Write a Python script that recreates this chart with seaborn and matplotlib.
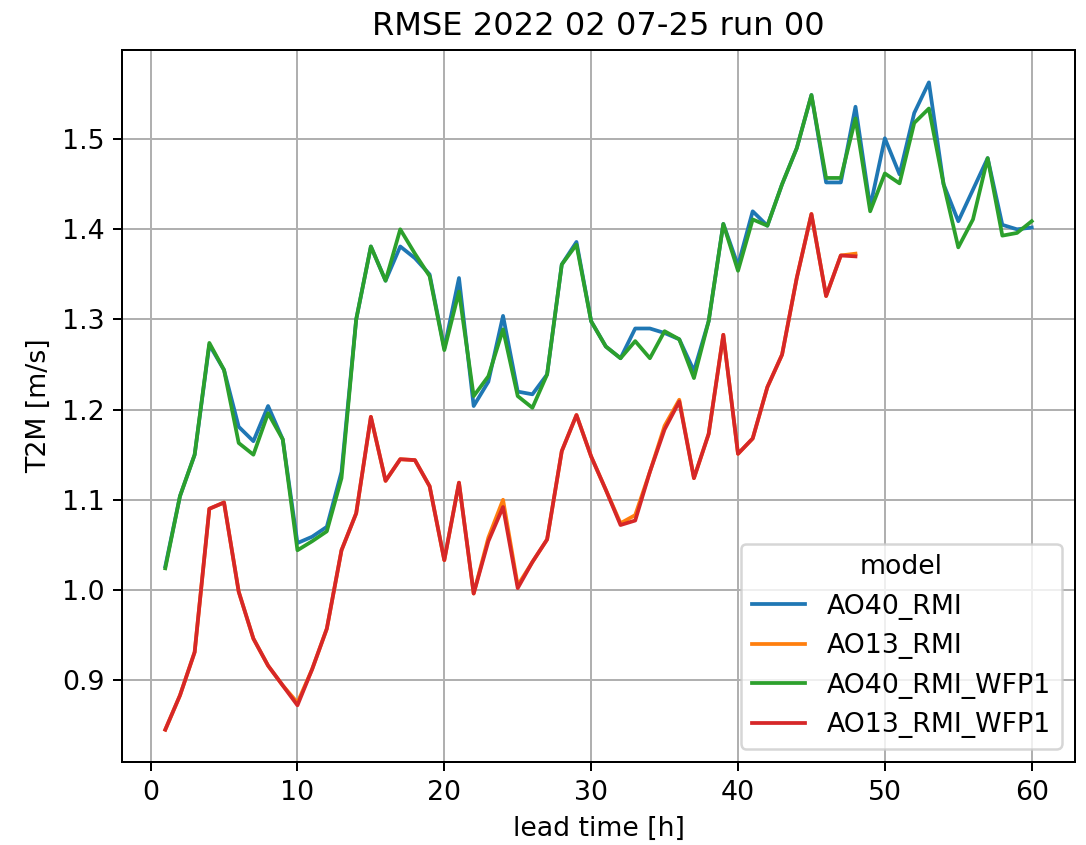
import numpy as np
import pandas as pd
import seaborn as sns
import matplotlib.pyplot as plt

lead_long = list(range(1, 61))
lead_short = list(range(1, 49))

ao40_rmi = [
    1.026, 1.104, 1.150, 1.272, 1.244, 1.181, 1.165, 1.204, 1.167, 1.052,
    1.059, 1.070, 1.131, 1.300, 1.381, 1.343, 1.381, 1.368, 1.350, 1.268,
    1.346, 1.204, 1.231, 1.304, 1.220, 1.217, 1.239, 1.361, 1.386, 1.298,
    1.270, 1.257, 1.290, 1.290, 1.285, 1.278, 1.243, 1.298, 1.406, 1.360,
    1.420, 1.404, 1.450, 1.490, 1.549, 1.452, 1.452, 1.536, 1.425, 1.501,
    1.461, 1.529, 1.563, 1.450, 1.409, 1.444, 1.479, 1.405, 1.400, 1.402,
]
ao40_rmi_wfp1 = [
    1.024, 1.104, 1.150, 1.274, 1.244, 1.163, 1.150, 1.196, 1.167, 1.044,
    1.054, 1.065, 1.124, 1.300, 1.381, 1.343, 1.400, 1.373, 1.348, 1.266,
    1.331, 1.215, 1.237, 1.289, 1.215, 1.202, 1.239, 1.361, 1.383, 1.298,
    1.270, 1.257, 1.276, 1.257, 1.287, 1.278, 1.235, 1.298, 1.406, 1.354,
    1.411, 1.404, 1.450, 1.490, 1.549, 1.457, 1.457, 1.523, 1.420, 1.462,
    1.451, 1.518, 1.534, 1.450, 1.380, 1.411, 1.479, 1.393, 1.396, 1.409,
]
ao13_rmi = [
    0.845, 0.883, 0.931, 1.090, 1.097, 0.998, 0.946, 0.916, 0.894, 0.875,
    0.912, 0.957, 1.044, 1.085, 1.192, 1.121, 1.145, 1.144, 1.115, 1.033,
    1.119, 0.996, 1.058, 1.100, 1.005, 1.031, 1.056, 1.154, 1.194, 1.148,
    1.111, 1.074, 1.083, 1.131, 1.182, 1.211, 1.124, 1.173, 1.283, 1.151,
    1.168, 1.225, 1.261, 1.346, 1.417, 1.326, 1.371, 1.373,
]
ao13_rmi_wfp1 = [
    0.845, 0.883, 0.931, 1.090, 1.097, 0.998, 0.946, 0.916, 0.894, 0.872,
    0.912, 0.957, 1.044, 1.085, 1.192, 1.121, 1.145, 1.144, 1.115, 1.033,
    1.119, 0.996, 1.054, 1.092, 1.002, 1.031, 1.056, 1.154, 1.194, 1.148,
    1.111, 1.072, 1.077, 1.131, 1.178, 1.209, 1.124, 1.173, 1.283, 1.151,
    1.168, 1.225, 1.261, 1.346, 1.417, 1.326, 1.371, 1.370,
]

series = [
    ("AO40_RMI", lead_long, ao40_rmi),
    ("AO13_RMI", lead_short, ao13_rmi),
    ("AO40_RMI_WFP1", lead_long, ao40_rmi_wfp1),
    ("AO13_RMI_WFP1", lead_short, ao13_rmi_wfp1),
]
df = pd.concat(
    [pd.DataFrame({"lead": x, "rmse": y, "model": name}) for name, x, y in series],
    ignore_index=True,
)

plt.rcParams["font.size"] = 10.7

fig = plt.figure(figsize=(1086 / 180, 845 / 180), dpi=180)
ax = fig.add_subplot(111)
fig.subplots_adjust(left=0.1123, right=0.9899, bottom=0.0982, top=0.9408)

sns.lineplot(data=df, x="lead", y="rmse", hue="model",
             palette=["tab:blue", "tab:orange", "tab:green", "tab:red"], ax=ax)

ax.set_title("RMSE 2022 02 07-25 run 00")
ax.set_xlabel("lead time [h]")
ax.set_ylabel("T2M [m/s]")
ax.grid(True)
ax.legend(title="model", loc="lower right")

fig.savefig("out.png", dpi=180)
